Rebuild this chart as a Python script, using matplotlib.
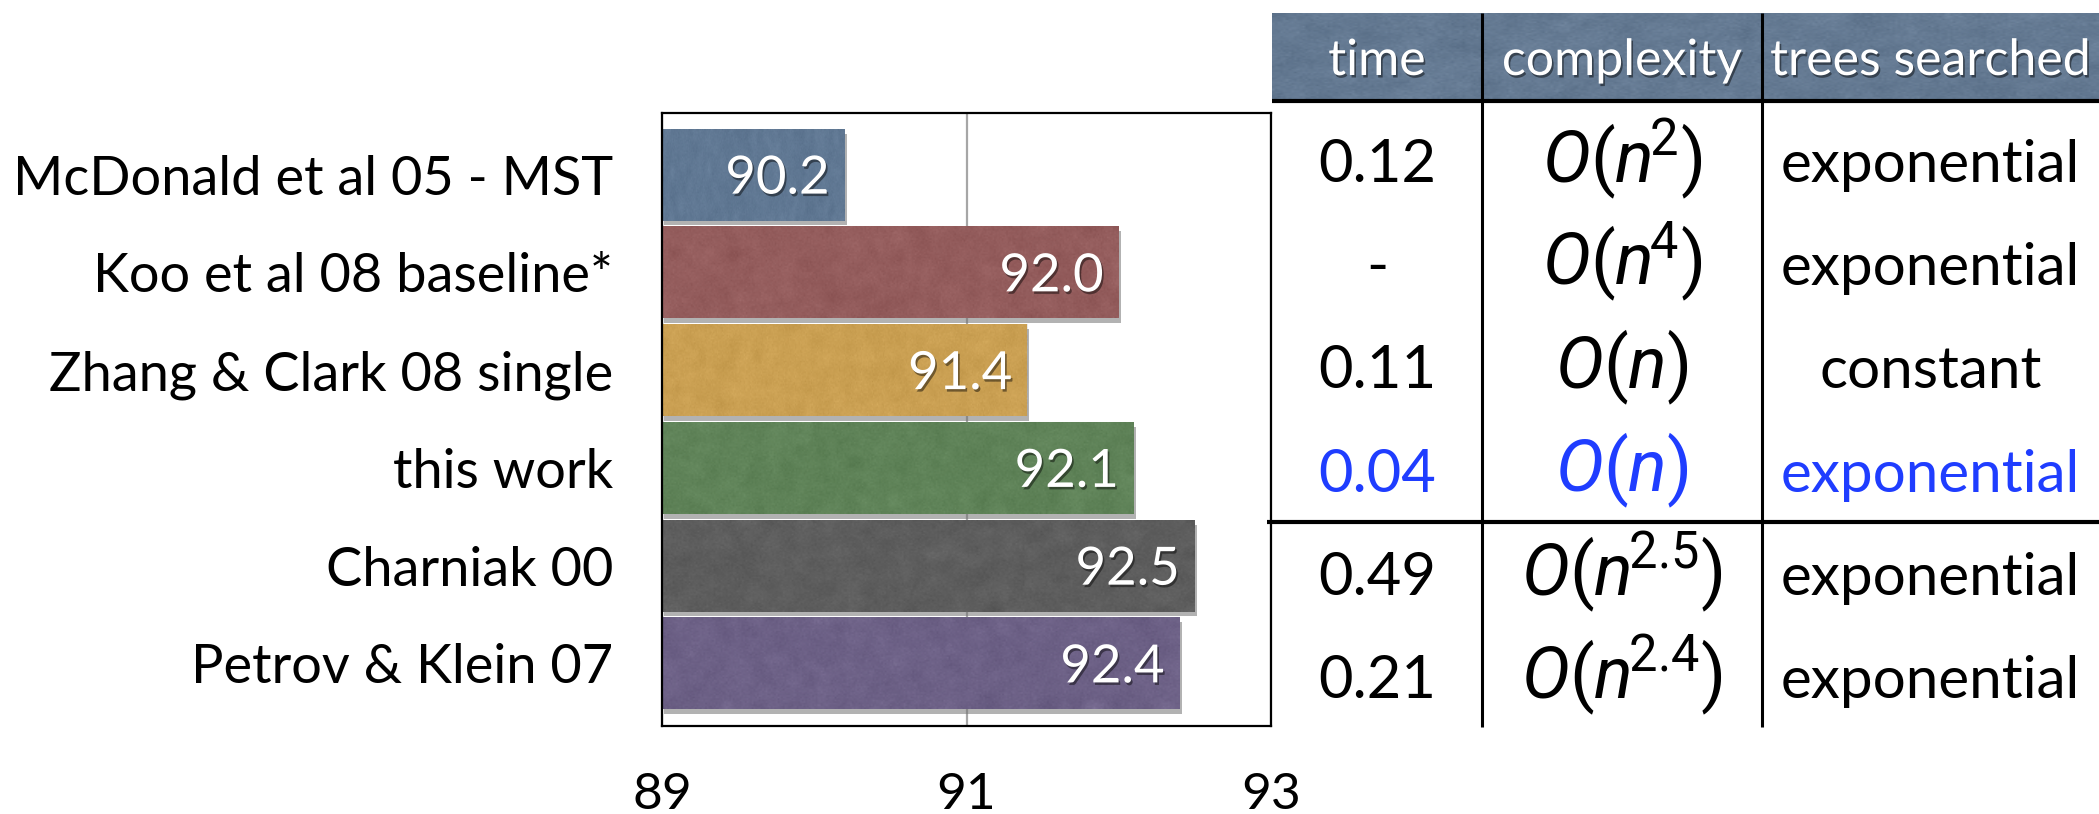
import numpy as np
import matplotlib
matplotlib.use("Agg")
import matplotlib.pyplot as plt
from matplotlib import patheffects as pe
from matplotlib.patches import Rectangle

# ---- data -------------------------------------------------------------
methods = ["McDonald et al 05 - MST", "Koo et al 08 baseline*",
           "Zhang & Clark 08 single", "this work", "Charniak 00",
           "Petrov & Klein 07"]
accuracy = [90.2, 92.0, 91.4, 92.1, 92.5, 92.4]
bar_colors = ["#5b7797", "#985757", "#d8a64b", "#5a8452", "#585858", "#6a5c88"]
x_ticks = [89, 91, 93]
x_limits = (89, 93)

col_headers = ["time", "complexity", "trees searched"]
times = ["0.12", "-", "0.11", "0.04", "0.49", "0.21"]
complexities = [r"$O(n^{\!2})$", r"$O(n^{\!4})$", r"$O(n)$", r"$O(n)$",
                r"$O(n^{\!2.5})$", r"$O(n^{\!2.4})$"]
trees = ["exponential", "exponential", "constant", "exponential",
         "exponential", "exponential"]
highlight_row = 3

# ---- style ------------------------------------------------------------
plt.rcParams["font.family"] = ["Lato", "DejaVu Sans"]
plt.rcParams["mathtext.fontset"] = "custom"
plt.rcParams["mathtext.rm"] = "Roboto"
plt.rcParams["mathtext.it"] = "Roboto:italic"
plt.rcParams["mathtext.bf"] = "Roboto:bold"

W, H = 2099, 814
fig = plt.figure(figsize=(W / 100, H / 100), dpi=100)
fig.patch.set_facecolor("white")
rng = np.random.default_rng(11)


def paper(ax, extent, strength, zorder, clip=None):
    """Overlay a soft mottled grain on a rectangle."""
    coarse = rng.normal(0, 1, (12, 60))
    im = ax.imshow(coarse, cmap="gray", extent=extent, aspect="auto",
                   interpolation="bicubic", alpha=strength, zorder=zorder,
                   vmin=-3, vmax=3)
    fine = rng.normal(0, 1, (60, 300))
    im2 = ax.imshow(fine, cmap="gray", extent=extent, aspect="auto",
                    interpolation="bilinear", alpha=strength * 0.6,
                    zorder=zorder, vmin=-3, vmax=3)
    if clip is not None:
        im.set_clip_path(clip)
        im2.set_clip_path(clip)


# ---- bar chart --------------------------------------------------------
ax = fig.add_axes([662 / W, 1 - 726 / H, 609 / W, 613 / H])
y = np.arange(len(methods))
vals = np.array(accuracy)
bar_h = 0.94
bars = ax.barh(y, vals - x_limits[0], left=x_limits[0], height=bar_h,
               color=bar_colors, zorder=2)
for b in bars:
    b.set_path_effects([pe.SimplePatchShadow(offset=(1.5, -3.5),
                                             shadow_rgbFace="0.45", alpha=0.55),
                        pe.Normal()])
for yi, v, b in zip(y, vals, bars):
    paper(ax, (x_limits[0], v, yi + bar_h / 2, yi - bar_h / 2), 0.10, 2.1, clip=b)
    ax.annotate(f"{v:.1f}", xy=(v, yi), xytext=(-11, 0),
                textcoords="offset points", ha="right", va="center_baseline",
                color="white", fontsize=38, zorder=3,
                path_effects=[pe.SimplePatchShadow(offset=(1.2, -1.8),
                                                   shadow_rgbFace="black",
                                                   alpha=0.45),
                              pe.Normal()])

ax.set_xlim(*x_limits)
ax.set_ylim(len(methods) - 1 + 0.64, -0.63)
ax.set_xticks(x_ticks)
ax.set_xticklabels([str(t) for t in x_ticks])
ax.set_yticks(y)
ax.set_yticklabels(methods)
ax.tick_params(axis="x", length=0, pad=33, labelsize=37)
ax.tick_params(axis="y", length=0, pad=35, labelsize=39)
ax.grid(axis="x", color="#a6a6a6", lw=1.6)
ax.set_axisbelow(True)
for s in ax.spines.values():
    s.set_linewidth(1.6)
    s.set_color("black")

# ---- comparison table -------------------------------------------------
ov = fig.add_axes([0, 0, 1, 1])
ov.set_xlim(0, W)
ov.set_ylim(H, 0)
ov.axis("off")

head_left, head_top, head_bot = 1272, 13, 99
col_edges = [head_left, 1482, 1762, W]
col_centers = [(a + b) / 2 for a, b in zip(col_edges[:-1], col_edges[1:])]

hdr = Rectangle((head_left, head_top), W - head_left, head_bot - head_top,
                facecolor="#5f7997", edgecolor="none", zorder=1)
ov.add_patch(hdr)
paper(ov, (head_left, W, head_bot, head_top), 0.12, 1.1, clip=hdr)
ov.set_xlim(0, W)
ov.set_ylim(H, 0)

shadow_txt = [pe.SimplePatchShadow(offset=(1.2, -1.8), shadow_rgbFace="black",
                                   alpha=0.45), pe.Normal()]
for cx, name in zip(col_centers, col_headers):
    ov.text(cx, 75, name, ha="center", va="baseline", color="white",
            fontsize=36, zorder=3, path_effects=shadow_txt)

ov.plot([head_left, W], [101, 101], color="black", lw=3.0, zorder=4,
        solid_capstyle="butt")
for xe in col_edges[1:-1]:
    ov.plot([xe, xe], [head_top, 727], color="black", lw=2.2, zorder=4,
            solid_capstyle="butt")
ov.plot([1267, W], [522, 522], color="black", lw=3.0, zorder=4,
        solid_capstyle="butt")

row_base0, row_pitch = 182, 103.2
for i, (t, c, tr) in enumerate(zip(times, complexities, trees)):
    colr = "#1f3dff" if i == highlight_row else "black"
    yb = row_base0 + row_pitch * i
    ov.text(col_centers[0], yb, t, ha="center", va="baseline",
            color=colr, fontsize=43, zorder=3)
    ov.text(col_centers[1], yb, c, ha="center", va="baseline",
            color=colr, fontsize=52, zorder=3)
    ov.text(col_centers[2], yb, tr, ha="center", va="baseline",
            color=colr, fontsize=42, zorder=3)

fig.savefig("out.png", dpi=100, facecolor="white")
